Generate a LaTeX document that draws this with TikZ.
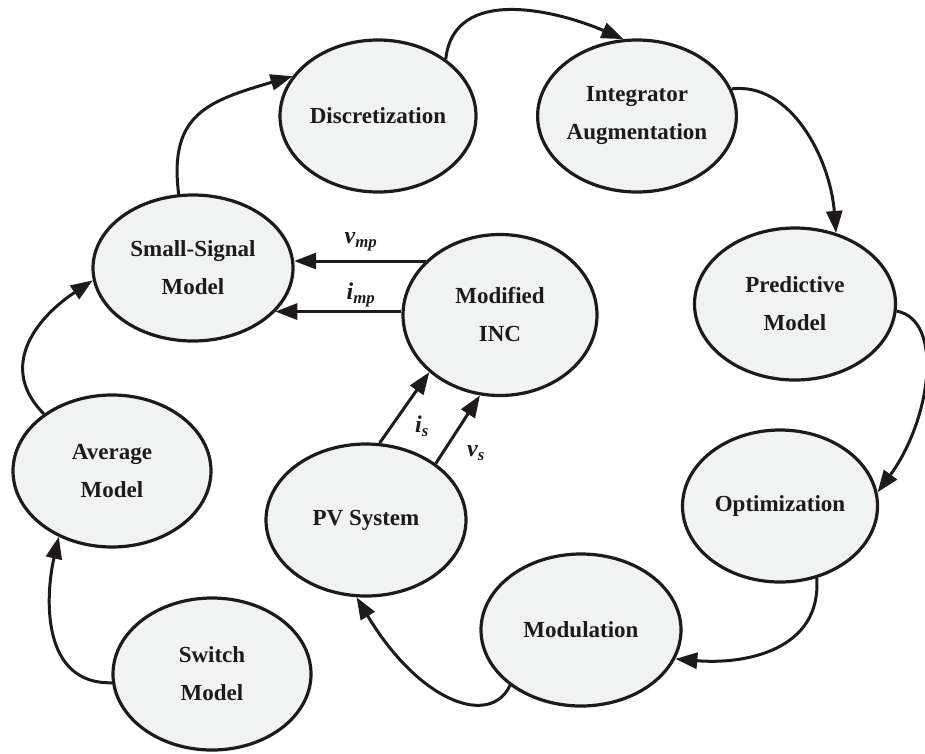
\documentclass[tikz,border=0pt]{standalone}
\usepackage{fontspec}
\setmainfont{Liberation Serif}
\usetikzlibrary{arrows.meta,shapes.geometric}
\definecolor{nodefill}{RGB}{241,242,242}
\definecolor{ink}{RGB}{30,26,26}
\begin{document}
\begin{tikzpicture}[x=1pt,y=-1pt,
  st/.style={ellipse, draw=ink, line width=3.2pt, fill=nodefill,
    minimum width=198pt, minimum height=152pt, inner sep=0pt,
    align=center, font=\fontsize{23}{38}\selectfont\bfseries, text=ink},
  arr/.style={draw=ink, line width=3pt, -{Triangle[length=22pt,width=16pt]}},
  lbl/.style={inner sep=0pt, font=\fontsize{24}{24}\selectfont\bfseries\itshape, text=ink}]
\useasboundingbox (0,0) rectangle (925,753);

% nodes
\node[st] (sw)   at (212,674) {Switch\\Model};
\node[st] (av)   at (112,471) {Average\\Model};
\node[st, minimum width=200pt, minimum height=146pt] (ss) at (193,268) {Small-Signal\\Model};
\node[st, minimum width=196pt] (disc) at (378,116) {Discretization};
\node[st] (int)  at (637,116) {Integrator\\Augmentation};
\node[st, minimum width=201pt] (pred) at (795,304) {Predictive\\Model};
\node[st, minimum width=195pt] (opt)  at (780,506) {Optimization};
\node[st, minimum width=200pt] (mod)  at (581,630) {Modulation};
\node[st, minimum width=200pt] (pv)   at (366,520) {PV System};
\node[st, minimum width=194pt, minimum height=161pt] (inc) at (500,315) {Modified\\INC};

% cycle connectors
\draw[arr] (sw.185) .. controls +(-70,2) and +(-14,62) .. (av.231);
\draw[arr] (av.140) .. controls +(-45,-45) and +(-60,40) .. (ss.187);
\draw[arr] (ss.101) .. controls +(-10,-80) and +(-85,25) .. (disc.155);
\draw[arr] (disc.40) .. controls +(8,-75) and +(-65,-28) .. (int.100);
\draw[arr] (int.16) .. controls +(59,-7) and +(-6,-75) .. (pred.60);
\draw[arr] (pred.-4) .. controls +(48,9) and +(53,-72) .. (opt.8);
\draw[arr] (opt.-63) .. controls +(5,72) and +(70,6) .. (mod.-17);
\draw[arr] (mod.218) .. controls +(-20,42) and +(63,105) .. (pv.263);

% signal connectors
\draw[arr] (pv.80) -- (inc.219);
\draw[arr] (pv.39) -- (inc.256);
\draw[arr] (inc.144) -- (inc.144 -| ss.4);
\draw[arr] (inc.178) -- (inc.178 -| ss.-28);

% labels
\node[lbl] (lvmp) at (361,242) {v\textsubscript{mp}};
\node[lbl] (limp) at (361,295) {i\textsubscript{mp}};
\node[lbl] (lis)  at (422,426) {i\textsubscript{s}};
\node[lbl] (lvs)  at (476,453) {v\textsubscript{s}};
\end{tikzpicture}
\end{document}
